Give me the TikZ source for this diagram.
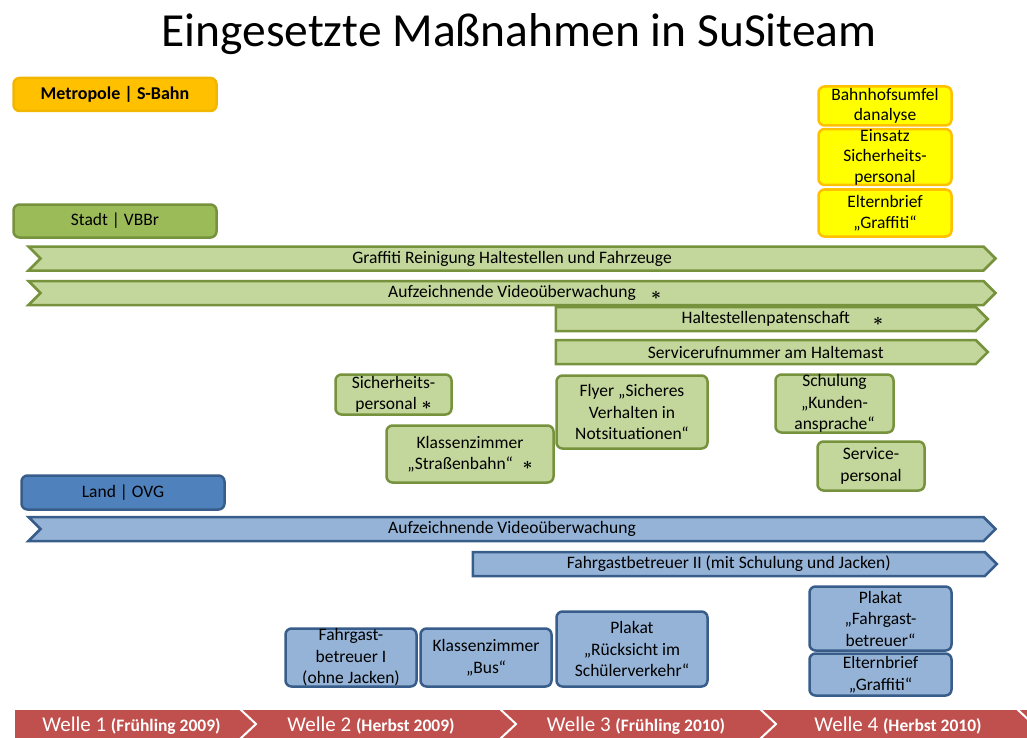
\documentclass[tikz,border=0pt]{standalone}
\usepackage{fontspec}
\setmainfont{Carlito}
\usepackage{tikz}
\usetikzlibrary{shapes.arrows,shapes.symbols,positioning,calc}

\definecolor{metro}{HTML}{FFC000}
\definecolor{metroline}{HTML}{F2B600}
\definecolor{gelb}{HTML}{FFFF00}
\definecolor{stadt}{HTML}{9BBB59}
\definecolor{gruen}{HTML}{C3D69B}
\definecolor{gruenline}{HTML}{76923C}
\definecolor{land}{HTML}{4F81BD}
\definecolor{blau}{HTML}{95B3D7}
\definecolor{blauline}{HTML}{385D8A}
\definecolor{wellenrot}{HTML}{C0504D}
\newcommand{\stern}{{\fontsize{19}{19}\selectfont\boldmath$\ast$}}

\begin{document}
\begin{tikzpicture}[x = 1pt, y = -1pt,
  box/.style = {draw, line width = 2.5pt, rounded corners = 6pt, align = center, inner sep = 0pt, font = \fontsize{17.5}{21.5}\selectfont},
  bar/.style = {signal, signal to = east, draw, line width = 2.5pt, minimum height = 24pt, inner sep = 0pt, font = \fontsize{17.5}{21}\selectfont},
  gbox/.style = {box, fill = gruen, draw = gruenline},
  bbox/.style = {box, fill = blau, draw = blauline},
  ybox/.style = {box, fill = gelb, draw = metro, font = \fontsize{17.5}{20.5}\selectfont},
  sternchen/.style = {inner sep = 0pt},
  wellentext/.style = {white, font = \fontsize{21}{24}\selectfont}]
\useasboundingbox (0,0) rectangle (1027,738);

% title
\node (title) at (519,34) {\fontsize{47.5}{57}\selectfont Eingesetzte Maßnahmen in SuSiteam};

% Metropole
\node[box, fill = metro, draw = metroline, minimum width = 203, minimum height = 33, font = {\fontsize{18}{20}\bfseries}] (metro) at (115,94.5) {Metropole | S-Bahn};
\node[ybox, minimum width = 133, minimum height = 39] (umfeld) at (885,106) {Bahnhofsumfel\\danalyse};
\node[ybox, minimum width = 133, minimum height = 55] (einsatz) at (885,157) {Einsatz\\Sicherheits-\\personal};
\node[ybox, minimum width = 133, minimum height = 47] (ybrief) at (885,213) {Elternbrief\\„Graffiti“};

% Stadt
\node[box, fill = stadt, draw = gruenline, minimum width = 203, minimum height = 33] (stadt) at (115,221) {Stadt | VBBr};
\node[bar, fill = gruen, draw = gruenline, signal from = west, minimum width = 967] (graffiti) at (512,258.5) {Graffiti Reinigung Haltestellen und Fahrzeuge};
\node[bar, fill = gruen, draw = gruenline, signal from = west, minimum width = 967] (gvideo) at (512,293) {Aufzeichnende Videoüberwachung};
\node[sternchen] (gvideostar) at (656,295) {\stern};
\node[bar, fill = gruen, draw = gruenline, minimum width = 432, anchor = west] (paten) at (554.5,319) {Haltestellenpatenschaft};
\node[sternchen] (patenstar) at (878,321) {\stern};
\node[bar, fill = gruen, draw = gruenline, minimum width = 432, anchor = west] (hotline) at (554.5,352) {Servicerufnummer am Haltemast};
\node[gbox, minimum width = 116, minimum height = 40] (gpersonal) at (393.5,394.5) {Sicherheits-\\personal\;\stern};
\node[gbox, minimum width = 167, minimum height = 57] (strab) at (470,454) {Klassenzimmer\\„Straßenbahn“\;\;\stern};
\node[gbox, minimum width = 151, minimum height = 73] (flyer) at (632,412) {Flyer „Sicheres\\Verhalten in\\Notsituationen“};
\node[gbox, minimum width = 118, minimum height = 58] (schulung) at (834.5,403.5) {Schulung\\„Kunden-\\ansprache“};
\node[gbox, minimum width = 107, minimum height = 49] (service) at (871,466) {Service-\\personal};

% Land
\node[box, fill = land, draw = blauline, minimum width = 203, minimum height = 34] (land) at (123,492.5) {Land | OVG};
\node[bar, fill = blau, draw = blauline, signal from = west, minimum width = 967] (bvideo) at (512,529) {Aufzeichnende Videoüberwachung};
\node[bar, fill = blau, draw = blauline, minimum width = 524, anchor = west] (betreuer2) at (471.5,564) {Fahrgastbetreuer II (mit Schulung und Jacken)};
\node[bbox, minimum width = 131, minimum height = 58] (betreuer1) at (351,657.5) {Fahrgast-\\betreuer I\\(ohne Jacken)};
\node[bbox, minimum width = 131, minimum height = 58] (bus) at (486,657.5) {Klassenzimmer\\„Bus“};
\node[bbox, minimum width = 151, minimum height = 75] (ruecksicht) at (632,649) {Plakat\\„Rücksicht im\\Schülerverkehr“};
\node[bbox, minimum width = 142, minimum height = 64] (plakat) at (880.5,618.5) {Plakat\\„Fahrgast-\\betreuer“};
\node[bbox, minimum width = 142, minimum height = 42] (bbrief) at (880.5,674.5) {Elternbrief\\„Graffiti“};

% Wellen
\fill[wellenrot] (15,710) rectangle (1027,738);
\draw[white, line width = 2pt] (240,709) -- (256,724) -- (240,739);
\draw[white, line width = 2pt] (500,709) -- (516,724) -- (500,739);
\draw[white, line width = 2pt] (760,709) -- (776,724) -- (760,739);
\draw[white, line width = 2pt] (1017,709) -- (1033,724);
\node[wellentext] (welle1) at (131.5,726) {Welle 1 {\fontsize{17.5}{19}\selectfont\bfseries(Frühling 2009)}};
\node[wellentext] (welle2) at (371,726) {Welle 2 {\fontsize{17.5}{19}\selectfont\bfseries(Herbst 2009)}};
\node[wellentext] (welle3) at (636,726) {Welle 3 {\fontsize{17.5}{19}\selectfont\bfseries(Frühling 2010)}};
\node[wellentext] (welle4) at (898,726) {Welle 4 {\fontsize{17.5}{19}\selectfont\bfseries(Herbst 2010)}};
\end{tikzpicture}
\end{document}
